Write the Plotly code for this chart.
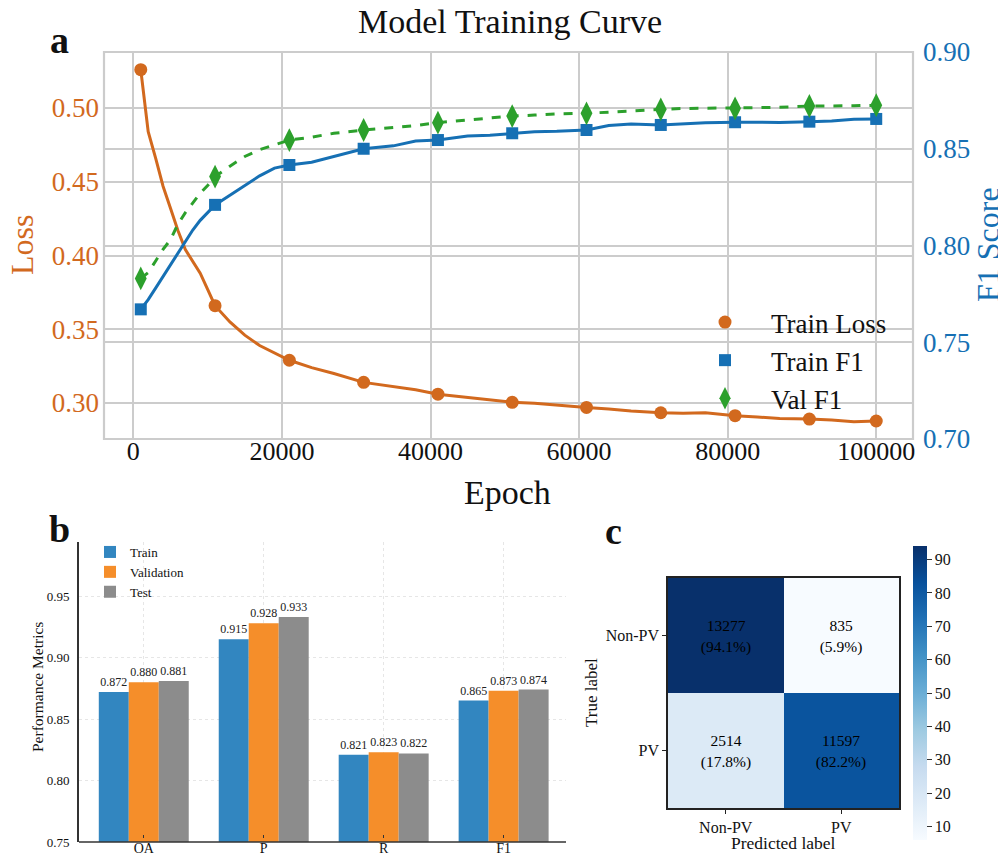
import plotly.graph_objects as go

# ---------------- data ----------------
epochs = [1000, 2000, 3000, 4000, 5000, 6000, 7000, 8000, 9000, 10000,
          11000, 13000, 15000, 17000, 19000, 21000, 24000, 27000, 31000, 35000,
          38000, 41000, 45000, 48000, 51000, 54000, 57000, 61000, 64000, 67000,
          71000, 74000, 77000, 81000, 84000, 87000, 91000, 94000, 97000, 100000]
train_loss = [0.526, 0.484, 0.466, 0.447, 0.432, 0.417, 0.404, 0.396, 0.388, 0.377,
              0.366, 0.355, 0.346, 0.339, 0.334, 0.329, 0.324, 0.320, 0.314, 0.311,
              0.309, 0.306, 0.304, 0.302, 0.3005, 0.2998, 0.2985, 0.297, 0.296, 0.2946,
              0.2934, 0.293, 0.2934, 0.2914, 0.2905, 0.2895, 0.2891, 0.2885, 0.2873, 0.2878]
train_f1 = [0.767, 0.772, 0.778, 0.784, 0.790, 0.796, 0.802, 0.808, 0.813, 0.817,
            0.821, 0.826, 0.831, 0.836, 0.840, 0.8416, 0.843, 0.846, 0.850, 0.8515,
            0.854, 0.8545, 0.8566, 0.857, 0.858, 0.8588, 0.859, 0.8597, 0.862, 0.8628,
            0.8623, 0.863, 0.8635, 0.8637, 0.8635, 0.8636, 0.864, 0.8643, 0.8652, 0.8654]
val_f1 = [0.783, 0.786, 0.792, 0.798, 0.803, 0.811, 0.817, 0.822, 0.827, 0.831,
          0.8356, 0.841, 0.846, 0.8495, 0.852, 0.8545, 0.856, 0.858, 0.8597, 0.861,
          0.862, 0.8635, 0.865, 0.866, 0.8669, 0.8674, 0.868, 0.8683, 0.869, 0.8695,
          0.8704, 0.8708, 0.8709, 0.8709, 0.871, 0.8714, 0.8721, 0.8721, 0.8722, 0.8725]
marker_epochs = [1000, 11000, 21000, 31000, 41000, 51000, 61000, 71000, 81000, 91000, 100000]

metric_names = ["OA", "P", "R", "F1"]
bar_train = [0.872, 0.915, 0.821, 0.865]
bar_val = [0.880, 0.928, 0.823, 0.873]
bar_test = [0.881, 0.933, 0.822, 0.874]

cm_labels = ["Non-PV", "PV"]
cm_counts = [[13277, 835], [2514, 11597]]

# ---------------- helpers ----------------
# page body has an 8px margin, so the figure is drawn 8px in from the window corner
OFF = 8
W, H = 1006 - OFF, 856 - OFF
def px(x):
    return (x - OFF) / W
def py(y):
    return 1 - (y - OFF) / H

SERIF = "Liberation Serif, Times New Roman, serif"
C_LOSS = "#D2691E"
C_TF1 = "#1670B4"
C_VF1 = "#2CA02C"

fig = go.Figure()

def msizes(size):
    return [size if e in marker_epochs else 0 for e in epochs]

# ---------------- panel a ----------------
specs_a = [("Train Loss", train_loss, C_LOSS, "circle", 13, "solid", "y"),
           ("Train F1", train_f1, C_TF1, "square", 12, "solid", "y2"),
           ("Val F1", val_f1, C_VF1, "diamond-tall", 17, "dash", "y2")]
for nm, vals, col, sym, sz, dash, yax in specs_a:
    fig.add_trace(go.Scatter(x=epochs, y=vals, mode="lines+markers", name=nm,
                             line=dict(color=col, width=3, dash=dash),
                             marker=dict(symbol=sym, size=msizes(sz), color=col, opacity=1,
                                         line=dict(width=0)),
                             xaxis="x", yaxis=yax, showlegend=False))
# legend entries (marker only, as in the reference)
for nm, vals, col, sym, sz, dash, yax in specs_a:
    fig.add_trace(go.Scatter(x=[None], y=[None], mode="markers", name=nm,
                             marker=dict(symbol=sym, size=sz, color=col, opacity=1,
                                         line=dict(width=0)),
                             xaxis="x", yaxis="y2", legend="legend", legendgroup=nm))

# ---------------- panel b ----------------
for nm, vals, col in [("Train", bar_train, "#3286C0"), ("Validation", bar_val, "#F58E2A"),
                      ("Test", bar_test, "#8C8C8C")]:
    fig.add_trace(go.Bar(x=metric_names, y=vals, name=nm, marker=dict(color=col, line=dict(width=0)),
                         texttemplate="%{y:.3f}", textposition="outside", constraintext="none",
                         cliponaxis=False, textfont=dict(family=SERIF, size=12, color="#222"),
                         xaxis="x2", yaxis="y3", legend="legend2"))

# ---------------- panel c ----------------
cm_pct = [[100.0 * v / sum(row) for v in row] for row in cm_counts]
cm_text = [[f"{cm_counts[i][j]}<br>({cm_pct[i][j]:.1f}%)" for j in range(2)] for i in range(2)]
blues = ["#f7fbff", "#deebf7", "#c6dbef", "#9ecae1", "#6baed6", "#4292c6", "#2171b5", "#08519c", "#08306b"]
cscale = [[i / (len(blues) - 1), c] for i, c in enumerate(blues)]
flat = [v for row in cm_pct for v in row]
fig.add_trace(go.Heatmap(z=cm_pct, x=cm_labels, y=cm_labels, text=cm_text, texttemplate="%{text}",
                         textfont=dict(family=SERIF, size=15.5, color="black"),
                         colorscale=cscale, zmin=min(flat), zmax=max(flat), showscale=True,
                         colorbar=dict(x=px(913), xanchor="left", y=py(546), yanchor="top",
                                       len=(840 - 546) / H, lenmode="fraction", thickness=14,
                                       xpad=0, ypad=0,
                                       outlinewidth=0, ticks="outside", ticklen=5, tickcolor="#333",
                                       tickvals=[10, 20, 30, 40, 50, 60, 70, 80, 90],
                                       tickfont=dict(family=SERIF, size=16, color="#111")),
                         xaxis="x3", yaxis="y4", hoverinfo="skip"))

grid_c = "#cccccc"
fig.update_layout(
    width=W, height=H, margin=dict(l=0, r=0, t=0, b=0, pad=0, autoexpand=False),
    paper_bgcolor="white", plot_bgcolor="white",
    font=dict(family=SERIF, color="#111"),
    barmode="group", bargap=0.25, bargroupgap=0,
    # x axis of panel a sits a few px above the frame so its labels hug the frame as in the reference
    xaxis=dict(domain=[px(104), px(913)], range=[-3950, 104950], anchor="free", position=py(433),
               tickvals=[0, 20000, 40000, 60000, 80000, 100000], tickformat="d",
               showgrid=True, gridcolor=grid_c, gridwidth=1.6, zeroline=False,
               showline=False, ticks="", tickfont=dict(family=SERIF, size=26, color="#111")),
    yaxis=dict(domain=[py(439), py(52)], range=[0.2756, 0.538], anchor="x",
               tickvals=[0.30, 0.35, 0.40, 0.45, 0.50], tickformat=".2f",
               showgrid=True, gridcolor=grid_c, gridwidth=1.6, zeroline=False,
               showline=False, ticks="", tickfont=dict(family=SERIF, size=27, color=C_LOSS),
               ticklabelstandoff=4),
    yaxis2=dict(overlaying="y", side="right", range=[0.70, 0.90], anchor="x",
                tickvals=[0.70, 0.75, 0.80, 0.85, 0.90], tickformat=".2f",
                showgrid=True, gridcolor=grid_c, gridwidth=1.6, zeroline=False,
                showline=False, ticks="", tickfont=dict(family=SERIF, size=27, color=C_TF1),
                ticklabelstandoff=9),
    xaxis2=dict(domain=[px(79), px(566)], anchor="free", position=py(838), range=[-0.54, 3.52],
                showgrid=True, gridcolor="#e6e6e6", griddash="dot", gridwidth=1,
                showline=False, ticks="inside", ticklen=3,
                tickcolor="#333", tickfont=dict(family=SERIF, size=14, color="#111")),
    yaxis3=dict(domain=[py(842), py(542)], anchor="x2", range=[0.75, 0.994],
                tickvals=[0.75, 0.80, 0.85, 0.90, 0.95], tickformat=".2f",
                showgrid=True, gridcolor="#e6e6e6", griddash="dot", gridwidth=1, zeroline=False,
                showline=True, linecolor="#333", linewidth=1.6, ticks="",
                tickfont=dict(family=SERIF, size=13, color="#111"), ticklabelstandoff=5),
    xaxis3=dict(domain=[px(668), px(899)], anchor="y4", showgrid=False, zeroline=False,
                showline=True, mirror=True, linecolor="#222", linewidth=1.5,
                ticks="outside", ticklen=4, tickcolor="#222",
                tickfont=dict(family=SERIF, size=16, color="#111")),
    yaxis4=dict(domain=[py(808), py(578)], anchor="x3", autorange="reversed", showgrid=False,
                zeroline=False, showline=True, mirror=True, linecolor="#222", linewidth=1.5,
                ticks="outside", ticklen=4, tickcolor="#222",
                tickfont=dict(family=SERIF, size=16, color="#111")),
    legend=dict(x=px(679), y=py(298), xanchor="left", yanchor="top", bgcolor="rgba(0,0,0,0)",
                font=dict(family=SERIF, size=27, color="#111"), traceorder="grouped",
                tracegroupgap=0, itemwidth=82),
    legend2=dict(x=px(90), y=py(537), xanchor="left", yanchor="top", bgcolor="rgba(0,0,0,0)",
                 font=dict(family=SERIF, size=13, color="#111")),
)

# light-grey frame of panel a
fig.add_shape(type="rect", xref="x domain", yref="y domain", x0=0, x1=1, y0=0, y1=1,
              line=dict(color=grid_c, width=2.2), fillcolor="rgba(0,0,0,0)", layer="above")
# bottom spine of panel b
fig.add_shape(type="line", xref="x2 domain", yref="y3 domain", x0=0, x1=1, y0=0, y1=0,
              line=dict(color="#333", width=1.6), layer="above")

ann = [
    dict(text="Model Training Curve", x=px(510), y=py(22), font=dict(size=34)),
    dict(text="<b>a</b>", x=px(59), y=py(40), font=dict(size=38)),
    dict(text="<b>b</b>", x=px(59), y=py(529), font=dict(size=38)),
    dict(text="<b>c</b>", x=px(613), y=py(531), font=dict(size=38)),
    dict(text="Loss", x=px(22), y=py(245), textangle=-90, font=dict(size=32, color=C_LOSS)),
    dict(text="F1 Score", x=px(988), y=py(245), textangle=-90, font=dict(size=32, color=C_TF1)),
    dict(text="Epoch", x=px(507), y=py(492), font=dict(size=34)),
    dict(text="Performance Metrics", x=px(37), y=py(687), textangle=-90, font=dict(size=15.5)),
    dict(text="True label", x=px(591), y=py(693), textangle=-90, font=dict(size=17)),
    dict(text="Predicted label", x=px(783), y=py(843), font=dict(size=17.5)),
]
for a in ann:
    f = dict(family=SERIF, color="#111")
    f.update(a.pop("font"))
    fig.add_annotation(xref="paper", yref="paper", showarrow=False, xanchor="center",
                       yanchor="middle", font=f, **a)

fig.write_html("out.html")
